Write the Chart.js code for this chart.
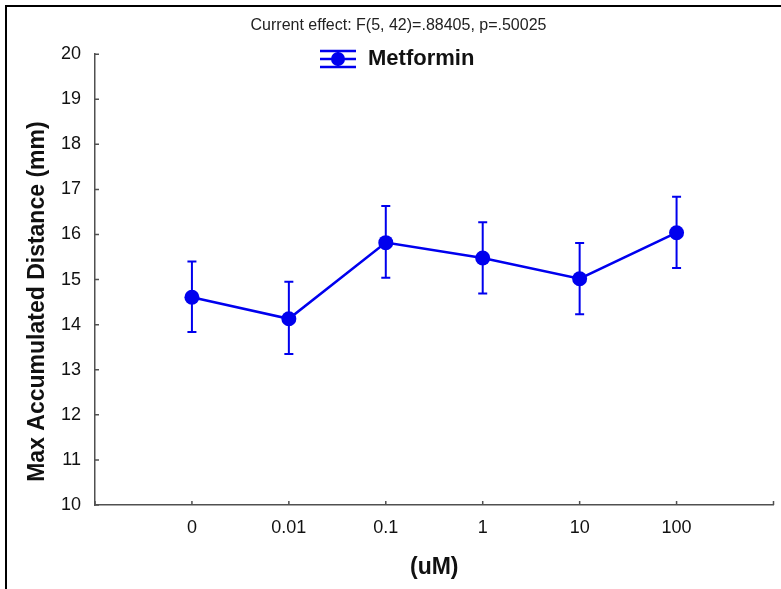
<!DOCTYPE html>
<html>
<head>
<meta charset="utf-8">
<script src="https://cdn.jsdelivr.net/npm/chart.js@4.4.1/dist/chart.umd.min.js"></script>
<style>
  html, body { margin: 0; padding: 0; background: #ffffff; overflow: hidden; }
  #wrap { position: relative; width: 781px; height: 589px; }
  #frame { position: absolute; left: 5px; top: 5px; width: 820px; height: 620px;
           border-top: 2px solid #000; border-left: 2px solid #000; box-sizing: border-box; }
  #c { position: absolute; left: 0; top: 0; }
</style>
</head>
<body>
<div id="wrap">
  <div id="frame"></div>
  <canvas id="c" width="781" height="589"></canvas>
</div>
<script>
// ---- data ----
const CATEGORIES = ['0', '0.01', '0.1', '1', '10', '100'];
const MEANS      = [14.61, 14.13, 15.82, 15.48, 15.02, 16.04];
const UPPER      = [15.40, 14.95, 16.63, 16.27, 15.81, 16.84];
const LOWER      = [13.84, 13.35, 15.04, 14.69, 14.23, 15.26];
const Y_TICKS    = [10, 11, 12, 13, 14, 15, 16, 17, 18, 19, 20];
const SERIES_NAME = 'Metformin';
const TITLE_TEXT = 'Current effect: F(5, 42)=.88405, p=.50025';
const Y_TITLE = 'Max Accumulated Distance (mm)';
const X_TITLE = '(uM)';

const BLUE = '#0000ee';
const AXIS = '#505050';
const FONT = "'Liberation Sans', Arial, sans-serif";

// legend icon: error-bar symbol
function makeIcon() {
  const cv = document.createElement('canvas');
  cv.width = 38; cv.height = 22;
  const g = cv.getContext('2d');
  g.strokeStyle = BLUE; g.fillStyle = BLUE; g.lineWidth = 2.5;
  g.beginPath();
  g.moveTo(1, 3); g.lineTo(37, 3);
  g.moveTo(1, 19); g.lineTo(37, 19);
  g.moveTo(1, 11); g.lineTo(37, 11);
  g.moveTo(19, 3); g.lineTo(19, 19);
  g.stroke();
  g.beginPath(); g.arc(19, 11, 7, 0, Math.PI * 2); g.fill();
  return cv;
}

const errorBars = {
  id: 'errorBars',
  beforeDatasetsDraw(chart) {
    const ctx = chart.ctx;
    const meta = chart.getDatasetMeta(0);
    const ys = chart.scales.y;
    ctx.save();
    ctx.strokeStyle = BLUE;
    ctx.lineWidth = 2;
    meta.data.forEach((pt, i) => {
      const x = pt.x;
      const yt = ys.getPixelForValue(UPPER[i]);
      const yb = ys.getPixelForValue(LOWER[i]);
      ctx.beginPath();
      ctx.moveTo(x, yt); ctx.lineTo(x, yb);
      ctx.moveTo(x - 4.5, yt); ctx.lineTo(x + 4.5, yt);
      ctx.moveTo(x - 4.5, yb); ctx.lineTo(x + 4.5, yb);
      ctx.stroke();
    });
    ctx.restore();
  }
};

const innerTicks = {
  id: 'innerTicks',
  afterDraw(chart) {
    const ctx = chart.ctx;
    const {x, y} = chart.scales;
    const a = chart.chartArea;
    ctx.save();
    ctx.strokeStyle = AXIS;
    ctx.lineWidth = 1.5;
    ctx.beginPath();
    y.ticks.forEach(t => {
      const py = y.getPixelForValue(t.value);
      ctx.moveTo(a.left, py); ctx.lineTo(a.left + 4, py);
    });
    x.ticks.forEach(t => {
      const px = x.getPixelForValue(t.value);
      ctx.moveTo(px, a.bottom); ctx.lineTo(px, a.bottom - 4);
    });
    ctx.stroke();
    // y axis title
    ctx.fillStyle = '#111';
    ctx.font = 'bold 23px ' + FONT;
    ctx.textAlign = 'center';
    ctx.textBaseline = 'middle';
    ctx.translate(38, (a.top + a.bottom) / 2 + 22);
    ctx.rotate(-Math.PI / 2);
    ctx.fillText(Y_TITLE, 0, 0);
    ctx.restore();
  }
};

const legendPlace = {
  id: 'legendPlace',
  afterLayout(chart) {
    const lg = chart.legend;
    if (!lg) return;
    lg.left = 319; lg.top = 48;
    lg.right = lg.left + 220; lg.bottom = lg.top + 30;
  }
};

new Chart(document.getElementById('c'), {
  type: 'line',
  data: {
    datasets: [{
      label: SERIES_NAME,
      data: MEANS.map((v, i) => ({x: i, y: v})),
      borderColor: BLUE,
      backgroundColor: BLUE,
      borderWidth: 2.5,
      pointRadius: 7.5,
      pointHoverRadius: 7.5,
      pointBackgroundColor: BLUE,
      pointBorderWidth: 0,
      tension: 0,
      fill: false
    }]
  },
  options: {
    responsive: false,
    animation: false,
    devicePixelRatio: 1,
    layout: { padding: { left: 19, right: 3, top: 0, bottom: 0 } },
    plugins: {
      title: {
        display: true,
        text: TITLE_TEXT,
        color: '#222',
        font: { family: FONT, size: 16, weight: 'normal' },
        padding: { top: 16, bottom: 19 }
      },
      legend: {
        display: true,
        position: 'chartArea',
        align: 'start',
        labels: {
          usePointStyle: true,
          pointStyle: makeIcon(),
          pointStyleWidth: 38,
          padding: 0,
          color: '#111',
          font: { family: FONT, size: 22, weight: 'bold' }
        }
      },
      tooltip: { enabled: false }
    },
    scales: {
      x: {
        type: 'linear',
        min: -1,
        max: 6,
        afterBuildTicks(scale) {
          scale.ticks = [-1, 0, 1, 2, 3, 4, 5, 6].map(v => ({value: v}));
        },
        afterFit(scale) { scale.height = 84; scale.paddingLeft = 0; scale.paddingRight = 0; },
        grid: { display: false, drawTicks: false },
        border: { display: true, color: AXIS, width: 1.5 },
        ticks: {
          autoSkip: false,
          maxRotation: 0,
          padding: 12,
          color: '#111',
          font: { family: FONT, size: 18 },
          callback: (v) => (CATEGORIES[v] !== undefined ? CATEGORIES[v] : '')
        },
        title: {
          display: true,
          text: X_TITLE,
          color: '#111',
          font: { family: FONT, size: 23, weight: 'bold' },
          padding: { top: 0, bottom: 8 }
        }
      },
      y: {
        min: 10,
        max: 20,
        afterBuildTicks(scale) {
          scale.ticks = Y_TICKS.map(v => ({value: v}));
        },
        afterFit(scale) { scale.width = 76; },
        grid: { display: false, drawTicks: false },
        border: { display: true, color: AXIS, width: 1.5 },
        ticks: {
          padding: 14,
          color: '#111',
          font: { family: FONT, size: 18 }
        },
        title: { display: false }
      }
    }
  },
  plugins: [errorBars, innerTicks, legendPlace]
});
</script>
</body>
</html>
